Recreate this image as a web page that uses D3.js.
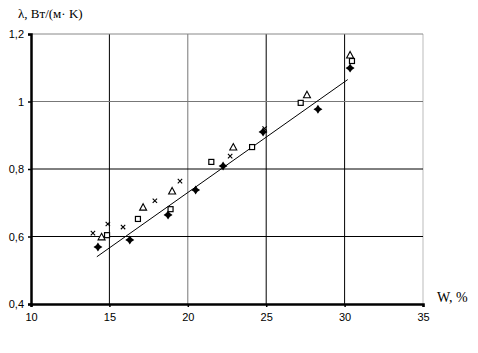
<!DOCTYPE html>
<html>
<head>
<meta charset="utf-8">
<script src="https://cdn.jsdelivr.net/npm/d3@7"></script>
<style>
  body { margin: 0; background: #fff; }
  .tick text { font-family: Arial, "Liberation Sans", sans-serif; font-size: 11px; }
</style>
</head>
<body>
<svg id="chart"></svg>
<script>
let width = 478, height = 353;

// data
let xTicks = [10, 15, 20, 25, 30, 35];
let yTicks = [0.4, 0.6, 0.8, 1.0, 1.2];
let diamonds = [[14.27, 0.569], [16.3, 0.59], [18.74, 0.664], [20.5, 0.738], [22.25, 0.809], [24.8, 0.91], [28.3, 0.977], [30.35, 1.099]];
let squares = [[14.85, 0.604], [16.82, 0.652], [18.9, 0.681], [21.5, 0.821], [24.1, 0.865], [27.2, 0.996], [30.47, 1.12]];
let triangles = [[14.5, 0.599], [17.15, 0.687], [19.0, 0.735], [22.9, 0.865], [27.6, 1.02], [30.35, 1.138]];
let crosses = [[13.95, 0.61], [14.9, 0.637], [15.87, 0.628], [17.9, 0.706], [19.5, 0.764], [22.7, 0.838], [24.9, 0.92]];
let trend = [[14.2, 0.54], [30.2, 1.065]];

let svg = d3.select("#chart").attr("width", width).attr("height", height);
let left = 31, right = 55, top_sp = 34, bottom = 49;

let x = d3.scaleLinear().domain([10, 35]).range([left, width - right]);
let y = d3.scaleLinear().domain([0.4, 1.2]).range([height - bottom, top_sp]);

// grid lines
let vGrid = {15: "#000", 20: "#777", 25: "#000", 30: "#000", 35: "#bbb"};
let hGrid = {"0.6": "#000", "0.8": "#000", "1": "#777", "1.2": "#888"};
svg.append("g").selectAll("line")
  .data(xTicks.filter(d => d > 10))
  .join("line")
  .attr("x1", d => x(d)).attr("x2", d => x(d))
  .attr("y1", y(0.4)).attr("y2", y(1.2))
  .attr("stroke", d => vGrid[d])
  .attr("stroke-width", 1);
svg.append("g").selectAll("line")
  .data(yTicks.filter(d => d > 0.4))
  .join("line")
  .attr("x1", x(10)).attr("x2", x(35))
  .attr("y1", d => y(d)).attr("y2", d => y(d))
  .attr("stroke", d => hGrid[String(d)])
  .attr("stroke-width", 1);

// axes
let fmt = d => String(d).replace(".", ",");
let xax_draw = d3.axisBottom(x).tickValues(xTicks).tickSize(3).tickPadding(6).tickFormat(d => d);
svg.append("g")
  .attr("class", "axis")
  .attr("transform", `translate(0, ${y(0.4)})`)
  .call(xax_draw)
  .call(g => g.select(".domain").attr("stroke-width", 2.5))
  .call(g => g.selectAll(".tick line").attr("stroke-width", 1.5));
let yax_draw = d3.axisLeft(y).tickValues(yTicks).tickSize(3).tickPadding(4).tickFormat(fmt);
svg.append("g")
  .attr("class", "axis")
  .attr("transform", `translate(${x(10)}, 0)`)
  .call(yax_draw)
  .call(g => g.select(".domain").attr("stroke-width", 2.5))
  .call(g => g.selectAll(".tick line").attr("stroke-width", 1.5));

// trend line
svg.append("path")
  .attr("d", d3.line().x(d => x(d[0])).y(d => y(d[1]))(trend))
  .attr("stroke", "#000")
  .attr("stroke-width", 1)
  .attr("fill", "none");

// markers
svg.append("g").selectAll("path")
  .data(diamonds)
  .join("path")
  .attr("transform", d => `translate(${x(d[0])}, ${y(d[1])})`)
  .attr("d", "M0,-4.5L1.8,-1.8L4.5,0L1.8,1.8L0,4.5L-1.8,1.8L-4.5,0L-1.8,-1.8Z")
  .attr("fill", "#000");
svg.append("g").selectAll("rect")
  .data(squares)
  .join("rect")
  .attr("x", d => x(d[0]) - 2.5).attr("y", d => y(d[1]) - 2.5)
  .attr("width", 5).attr("height", 5)
  .attr("fill", "#fff").attr("stroke", "#000").attr("stroke-width", 1.2);
svg.append("g").selectAll("path")
  .data(triangles)
  .join("path")
  .attr("transform", d => `translate(${x(d[0])}, ${y(d[1])})`)
  .attr("d", "M0,-3.5L3.5,3L-3.5,3Z")
  .attr("fill", "#fff").attr("stroke", "#000").attr("stroke-width", 1.1);
svg.append("g").selectAll("path")
  .data(crosses)
  .join("path")
  .attr("transform", d => `translate(${x(d[0])}, ${y(d[1])})`)
  .attr("d", "M-2.2,-2.2L2.2,2.2M2.2,-2.2L-2.2,2.2")
  .attr("stroke", "#000").attr("stroke-width", 1.1);

// axis titles
svg.append("text")
  .text("λ, Вт/(м· K)")
  .attr("x", 18).attr("y", 18)
  .attr("font-family", "'Times New Roman', 'Liberation Serif', serif")
  .attr("font-size", 13);
svg.append("text")
  .text("W, %")
  .attr("x", 437).attr("y", 302)
  .attr("font-family", "'Times New Roman', 'Liberation Serif', serif")
  .attr("font-size", 14);
</script>
</body>
</html>
